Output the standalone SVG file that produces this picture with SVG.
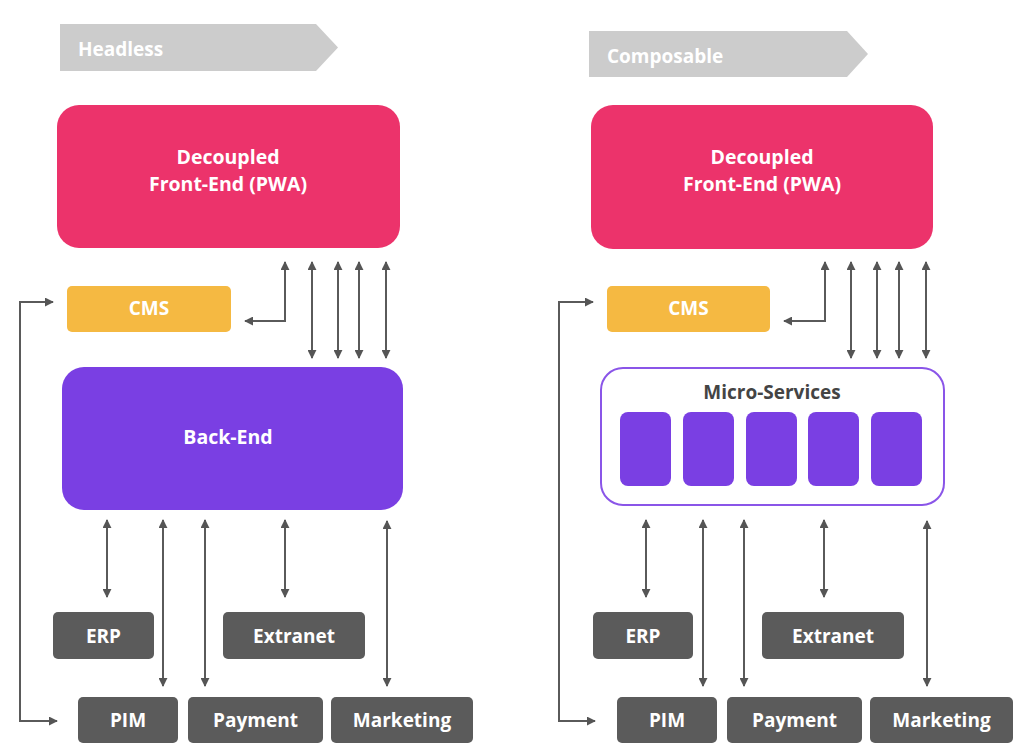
<svg xmlns="http://www.w3.org/2000/svg" width="1024" height="754" viewBox="0 0 1024 754">
<defs>
<marker id="ah" viewBox="0 0 10 10" refX="9" refY="5" markerWidth="9" markerHeight="9" markerUnits="userSpaceOnUse" orient="auto-start-reverse">
<path d="M0,0 L10,5 L0,10 z" fill="#555555"/>
</marker>
</defs>
<style>
.t{font-family:"Open Sans",Lato,"Liberation Sans",sans-serif;font-weight:700;text-anchor:middle;fill:#ffffff;font-size:19px}
.big{font-size:19.5px}
.fe{fill:#EC336B}
.cms{fill:#F5B942}
.be{fill:#7A3FE3}
.sys{fill:#5B5B5B}
.ban{fill:#CCCCCC}
.c{fill:none;stroke:#5A5A5A;stroke-width:2;marker-start:url(#ah);marker-end:url(#ah)}
</style>
<rect width="1024" height="754" fill="#ffffff"/>

<g id="banner-headless">
<polygon class="ban" points="60,24 316,24 338,47.5 316,71 60,71"/>
<text class="t" x="78" y="56" style="text-anchor:start">Headless</text>
</g>
<g id="banner-composable">
<polygon class="ban" points="589,31 847,31 868,54 847,77 589,77"/>
<text class="t" x="607" y="63" style="text-anchor:start">Composable</text>
</g>

<g id="h-frontend">
<rect class="fe" x="57" y="105" width="343" height="143" rx="22"/>
<text class="t big" x="228" y="164">Decoupled</text>
<text class="t big" x="228" y="191">Front-End (PWA)</text>
</g>
<g id="h-cms">
<rect class="cms" x="67" y="286" width="164" height="46" rx="5"/>
<text class="t" x="149" y="315">CMS</text>
</g>
<g id="h-backend">
<rect class="be" x="62" y="367" width="341" height="143" rx="22"/>
<text class="t big" x="228" y="444">Back-End</text>
</g>
<g id="h-erp"><rect class="sys" x="53" y="612" width="101" height="47" rx="5"/><text class="t" x="103.5" y="643">ERP</text></g>
<g id="h-extranet"><rect class="sys" x="223" y="612" width="142" height="47" rx="5"/><text class="t" x="294" y="643">Extranet</text></g>
<g id="h-pim"><rect class="sys" x="78" y="697" width="100" height="46" rx="5"/><text class="t" x="128" y="727">PIM</text></g>
<g id="h-payment"><rect class="sys" x="188" y="697" width="135" height="46" rx="5"/><text class="t" x="255.5" y="727">Payment</text></g>
<g id="h-marketing"><rect class="sys" x="331" y="697" width="142" height="46" rx="5"/><text class="t" x="402" y="727">Marketing</text></g>

<g id="c-frontend">
<rect class="fe" x="591" y="105" width="342" height="144" rx="22"/>
<text class="t big" x="762" y="164">Decoupled</text>
<text class="t big" x="762" y="191">Front-End (PWA)</text>
</g>
<g id="c-cms">
<rect class="cms" x="607" y="286" width="163" height="46" rx="5"/>
<text class="t" x="688.5" y="315">CMS</text>
</g>
<g id="c-microservices">
<rect x="601" y="368" width="343" height="137" rx="22" fill="#ffffff" stroke="#8A55E8" stroke-width="2"/>
<text class="t" x="772" y="399" style="fill:#444444">Micro-Services</text>
<rect class="be" x="620" y="412" width="51" height="74" rx="8"/>
<rect class="be" x="683" y="412" width="51" height="74" rx="8"/>
<rect class="be" x="746" y="412" width="51" height="74" rx="8"/>
<rect class="be" x="808" y="412" width="51" height="74" rx="8"/>
<rect class="be" x="871" y="412" width="51" height="74" rx="8"/>
</g>
<g id="c-erp"><rect class="sys" x="593" y="612" width="100" height="47" rx="5"/><text class="t" x="643" y="643">ERP</text></g>
<g id="c-extranet"><rect class="sys" x="762" y="612" width="142" height="47" rx="5"/><text class="t" x="833" y="643">Extranet</text></g>
<g id="c-pim"><rect class="sys" x="617" y="697" width="100" height="46" rx="5"/><text class="t" x="667" y="727">PIM</text></g>
<g id="c-payment"><rect class="sys" x="727" y="697" width="135" height="46" rx="5"/><text class="t" x="794.5" y="727">Payment</text></g>
<g id="c-marketing"><rect class="sys" x="870" y="697" width="143" height="46" rx="5"/><text class="t" x="941.5" y="727">Marketing</text></g>

<g id="connectors">
<path class="c" d="M285,262 L285,321 L245,321"/>
<path class="c" d="M312,262 L312,358"/>
<path class="c" d="M338,262 L338,358"/>
<path class="c" d="M359,262 L359,358"/>
<path class="c" d="M386,262 L386,358"/>
<path class="c" d="M53,302 L20,302 L20,721 L57,721"/>
<path class="c" d="M107,520 L107,597"/>
<path class="c" d="M163,520 L163,686"/>
<path class="c" d="M205,520 L205,686"/>
<path class="c" d="M285,520 L285,597"/>
<path class="c" d="M387,521 L387,686"/>

<path class="c" d="M825,262 L825,321 L784,321"/>
<path class="c" d="M851,262 L851,358"/>
<path class="c" d="M877,262 L877,358"/>
<path class="c" d="M899,262 L899,358"/>
<path class="c" d="M926,262 L926,358"/>
<path class="c" d="M593,302 L559,302 L559,721 L595,721"/>
<path class="c" d="M646,520 L646,597"/>
<path class="c" d="M703,520 L703,686"/>
<path class="c" d="M744,520 L744,686"/>
<path class="c" d="M824,520 L824,597"/>
<path class="c" d="M927,521 L927,686"/>
</g>
</svg>
